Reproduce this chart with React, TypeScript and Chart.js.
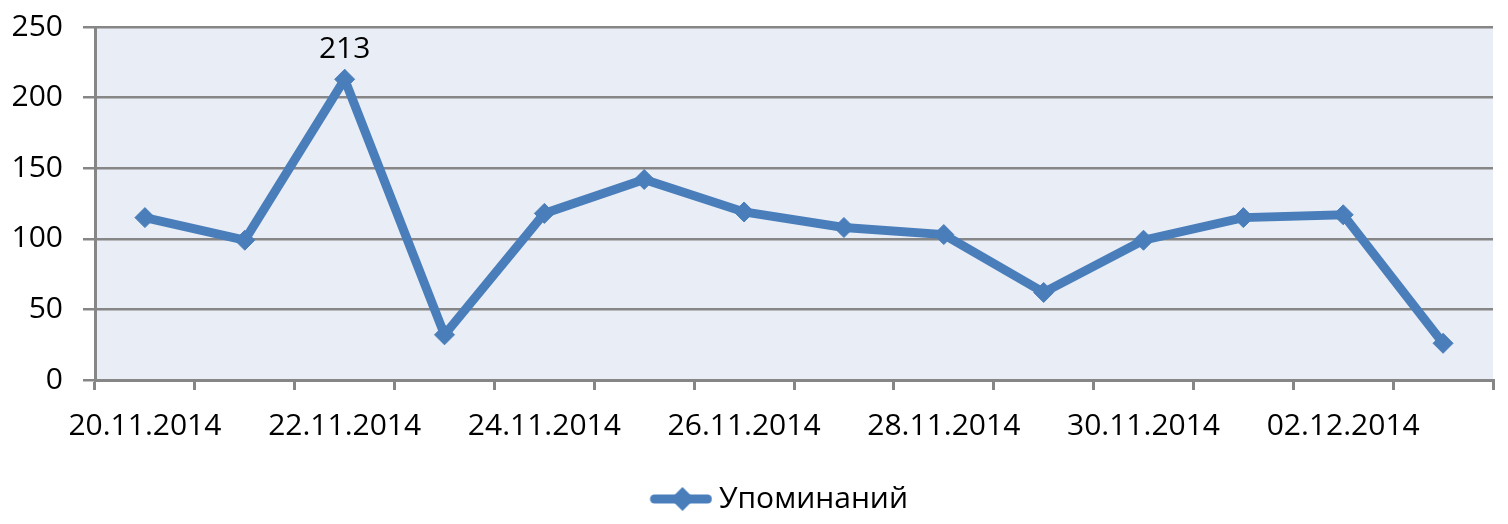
import React, { useEffect, useRef } from "react";
import { Chart, registerables } from "chart.js";

Chart.register(...registerables);

const categories = [
  "20.11.2014", "21.11.2014", "22.11.2014", "23.11.2014", "24.11.2014",
  "25.11.2014", "26.11.2014", "27.11.2014", "28.11.2014", "29.11.2014",
  "30.11.2014", "01.12.2014", "02.12.2014", "03.12.2014",
];
const mentions = [115, 99, 213, 32, 118, 142, 119, 108, 103, 62, 99, 115, 117, 26];
const seriesName = "Упоминаний";
const labeledIndex = 2;

const LINE = "#4A7EBB";
const GRID = "#868686";
const PLOT_BG = "#E9EDF5";
const FONT = "'Open Sans', sans-serif";
const FS = 30;

function makeLegendIcon(): HTMLCanvasElement {
  const c = document.createElement("canvas");
  c.width = 136;
  c.height = 28;
  const ctx = c.getContext("2d")!;
  ctx.strokeStyle = LINE;
  ctx.lineWidth = 9;
  ctx.lineCap = "round";
  ctx.beginPath();
  ctx.moveTo(78, 14);
  ctx.lineTo(131, 14);
  ctx.stroke();
  ctx.fillStyle = LINE;
  const cx = 106;
  ctx.beginPath();
  ctx.moveTo(cx - 12, 14);
  ctx.lineTo(cx, 2);
  ctx.lineTo(cx + 12, 14);
  ctx.lineTo(cx, 26);
  ctx.closePath();
  ctx.fill();
  return c;
}

export default function App() {
  const ref = useRef<HTMLCanvasElement | null>(null);

  useEffect(() => {
    if (!ref.current) return;
    const icon = makeLegendIcon();

    const bgPlugin = {
      id: "plotBg",
      beforeDraw(chart: any) {
        const { ctx, chartArea } = chart;
        ctx.save();
        ctx.fillStyle = PLOT_BG;
        ctx.fillRect(chartArea.left, chartArea.top, chartArea.right - chartArea.left, chartArea.bottom - chartArea.top);
        ctx.restore();
      },
    };

    const labelPlugin = {
      id: "dataLabel",
      afterDatasetsDraw(chart: any) {
        const meta = chart.getDatasetMeta(0);
        const pt = meta.data[labeledIndex];
        if (!pt) return;
        const { ctx } = chart;
        ctx.save();
        ctx.font = `${FS}px ${FONT}`;
        ctx.fillStyle = "#000";
        ctx.textAlign = "center";
        ctx.textBaseline = "middle";
        ctx.fillText(String(mentions[labeledIndex]), pt.x, pt.y - 30);
        ctx.restore();
      },
    };

    const chart = new Chart(ref.current, {
      type: "line",
      data: {
        labels: categories,
        datasets: [
          {
            label: seriesName,
            data: mentions,
            borderColor: LINE,
            backgroundColor: LINE,
            borderWidth: 9,
            pointStyle: "rectRot",
            pointRadius: 10,
            pointBorderWidth: 1,
            pointBackgroundColor: LINE,
            pointBorderColor: LINE,
            tension: 0,
          },
        ],
      },
      options: {
        animation: false,
        responsive: false,
        maintainAspectRatio: false,
        layout: { padding: { top: 27, right: 15, left: 0, bottom: 0 } },
        scales: {
          x: {
            type: "category",
            offset: true,
            grid: {
              offset: true,
              drawOnChartArea: false,
              drawTicks: true,
              tickLength: 10,
              color: GRID,
              lineWidth: 3,
            },
            border: { display: true, color: GRID, width: 3 },
            ticks: {
              autoSkip: false,
              maxRotation: 0,
              padding: 18,
              color: "#000",
              font: { family: FONT, size: FS },
              callback: (_v: any, i: number) => (i % 2 === 0 ? categories[i] : ""),
            },
            afterFit(scale: any) {
              scale.height = 94;
            },
          },
          y: {
            min: 0,
            max: 250,
            ticks: {
              stepSize: 50,
              padding: 20,
              color: "#000",
              font: { family: FONT, size: FS },
            },
            grid: {
              color: GRID,
              lineWidth: 2.5,
              tickLength: 12,
              drawTicks: true,
            },
            border: { display: true, color: GRID, width: 3 },
            afterFit(scale: any) {
              scale.width = 95;
              scale.paddingTop = 0;
              scale.paddingBottom = 0;
            },
          },
        },
        plugins: {
          legend: {
            display: true,
            position: "bottom",
            labels: {
              usePointStyle: true,
              pointStyleWidth: 119,
              color: "#000",
              font: { family: FONT, size: FS },
              padding: 10,
              generateLabels: () => [
                {
                  text: seriesName,
                  pointStyle: icon,
                  fillStyle: LINE,
                  strokeStyle: LINE,
                  lineWidth: 0,
                  hidden: false,
                  datasetIndex: 0,
                },
              ],
            },
          },
          tooltip: { enabled: false },
        },
      },
      plugins: [bgPlugin, labelPlugin],
    });

    return () => chart.destroy();
  }, []);

  return (
    <div style={{ position: "fixed", left: 0, top: 0, width: 1508, height: 524, background: "#fff" }}>
      <canvas ref={ref} width={1508} height={524} style={{ width: 1508, height: 524, display: "block" }} />
    </div>
  );
}
